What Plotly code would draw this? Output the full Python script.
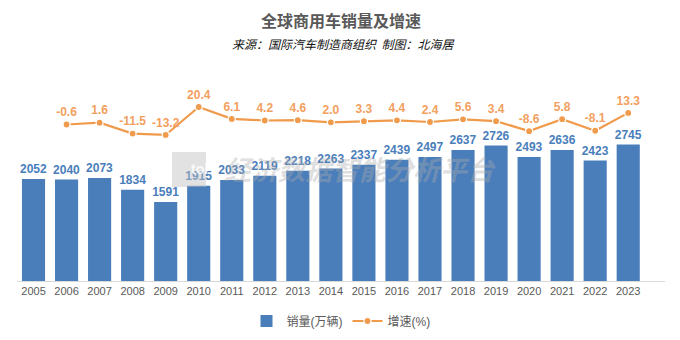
import plotly.graph_objects as go

years = [str(y) for y in range(2005, 2024)]
sales = [2052, 2040, 2073, 1834, 1591, 1915, 2033, 2119, 2218, 2263, 2337, 2439, 2497, 2637, 2726, 2493, 2636, 2423, 2745]
growth_years = years[1:]
growth = [-0.6, 1.6, -11.5, -13.2, 20.4, 6.1, 4.2, 4.6, 2.0, 3.3, 4.4, 2.4, 5.6, 3.4, -8.6, 5.8, -8.1, 13.3]

BLUE = "#4A7EBB"
ORANGE = "#F09A4C"
ORANGE_TXT = "#F2A05E"
FONT = "Liberation Sans, Arial, Noto Sans CJK SC, sans-serif"

fig = go.Figure()
fig.add_trace(go.Bar(
    x=years, y=sales, name="销量(万辆)", marker=dict(color=BLUE, line=dict(width=0)),
    text=[str(v) for v in sales], textposition="outside", cliponaxis=False,
    constraintext="none",
    textfont=dict(color=BLUE, size=12, family=FONT, weight="bold"),
))
fig.add_trace(go.Scatter(
    x=growth_years, y=growth, name="增速(%)", yaxis="y2", mode="lines+markers+text",
    line=dict(color=ORANGE, width=2.2),
    marker=dict(color=ORANGE, size=7, line=dict(color="white", width=1.2)),
    text=[f"{v:.1f}" for v in growth], textposition="top center", cliponaxis=False,
    textfont=dict(color=ORANGE_TXT, size=12, family=FONT, weight="bold"),
))

H = 340 - 60 - 59  # plot-area height in px
W = 680 - 17 - 15  # plot-area width in px


def px_x(x):
    return (x - 17) / W


def px_y(y):
    return 1 + (60 - y) / H


fig.update_layout(
    width=680, height=340,
    margin=dict(l=17, r=15, t=60, b=59, autoexpand=False),
    paper_bgcolor="white", plot_bgcolor="white",
    bargap=0.30,
    showlegend=True,
    legend=dict(orientation="h", x=0.5, xanchor="center", y=px_y(321), yanchor="middle",
                itemwidth=30, tracegroupgap=0,
                font=dict(size=12, color="#595959", family=FONT)),
    xaxis=dict(type="category", showgrid=False, showline=True, linecolor="#D9D9D9", linewidth=1,
               ticks="", tickfont=dict(size=11, color="#595959", family=FONT)),
    yaxis=dict(range=[0, 4447], visible=False, showgrid=False),
    yaxis2=dict(range=[-188.5, 76.8], overlaying="y", visible=False, showgrid=False),
    shapes=[
        dict(type="rect", xref="paper", yref="paper", x0=px_x(172), x1=px_x(206),
             y0=px_y(187), y1=px_y(152), fillcolor="rgba(190,190,190,0.45)",
             line=dict(width=0), layer="above"),
    ],
    annotations=[
        dict(text="<b>全球商用车销量及增速</b>", x=0.5, y=px_y(20), xref="paper", yref="paper",
             yanchor="middle", showarrow=False,
             font=dict(size=16, color="#595959", family="Noto Sans CJK SC")),
        dict(text="<i>来源：国际汽车制造商组织  制图：北海居</i>", x=px_x(343), y=px_y(43), xref="paper",
             yref="paper", yanchor="middle", showarrow=False,
             font=dict(size=12, color="#111111", family="Noto Sans CJK SC")),
        dict(text="<b>tol</b>", x=px_x(189), y=px_y(169), xref="paper", yref="paper",
             yanchor="middle", showarrow=False,
             font=dict(size=14, color="rgba(255,255,255,0.8)", family=FONT)),
        dict(text="<b><i>经济数据智能分析平台</i></b>", x=px_x(360), y=px_y(168), xref="paper", yref="paper",
             yanchor="middle", showarrow=False,
             font=dict(size=27, color="rgba(170,170,170,0.4)", family="Noto Sans CJK SC")),
    ],
)

fig.write_html("out.html")
